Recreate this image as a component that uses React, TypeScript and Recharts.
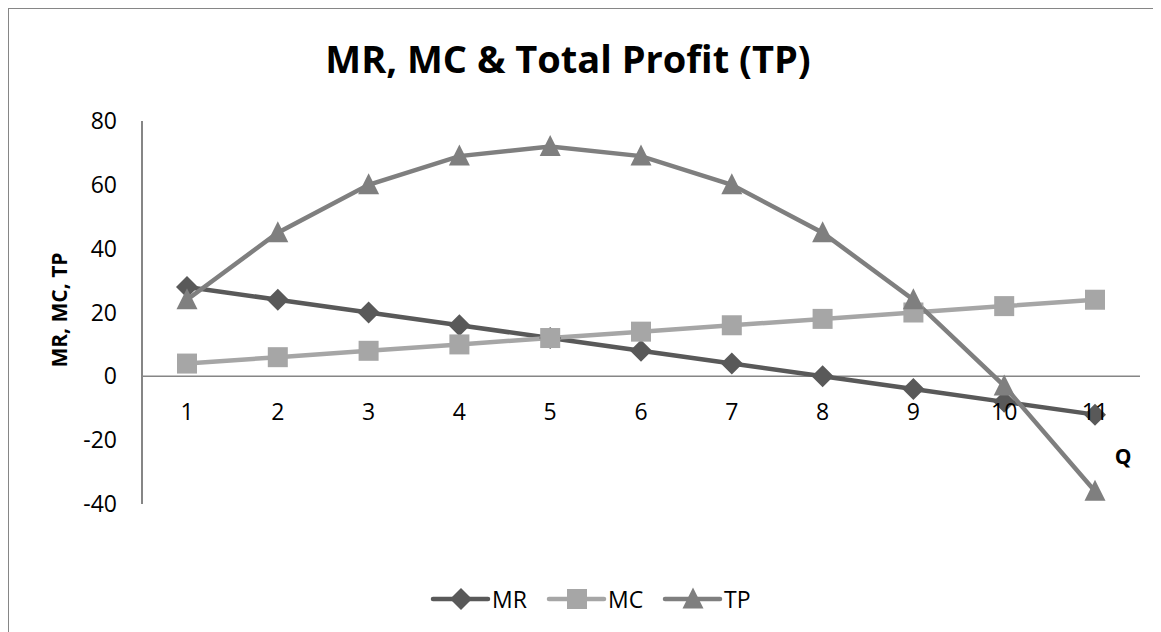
import { LineChart, Line, XAxis, YAxis, ReferenceLine, ReferenceDot } from 'recharts';

const quantities = ['1', '2', '3', '4', '5', '6', '7', '8', '9', '10', '11'];
const mrValues = [28, 24, 20, 16, 12, 8, 4, 0, -4, -8, -12];
const mcValues = [4, 6, 8, 10, 12, 14, 16, 18, 20, 22, 24];
const tpValues = [24, 45, 60, 69, 72, 69, 60, 45, 24, -3, -36];
const yTicks = [-40, -20, 0, 20, 40, 60, 80];

const data = quantities.map((q, i) => ({
  q,
  MR: mrValues[i],
  MC: mcValues[i],
  TP: tpValues[i],
}));

type MarkerKind = 'diamond' | 'square' | 'triangle';

const series: { key: string; color: string; marker: MarkerKind }[] = [
  { key: 'MR', color: '#595959', marker: 'diamond' },
  { key: 'MC', color: '#a6a6a6', marker: 'square' },
  { key: 'TP', color: '#7f7f7f', marker: 'triangle' },
];

const W = 1152;
const H = 623;
const FONT = '"Open Sans", sans-serif';

const drawMarker = (kind: MarkerKind, cx: number, cy: number, color: string, key?: string) => {
  if (kind === 'diamond') {
    const s = 11;
    return <path key={key} d={`M${cx},${cy - s}L${cx + s},${cy}L${cx},${cy + s}L${cx - s},${cy}Z`} fill={color} />;
  }
  if (kind === 'square') {
    return <rect key={key} x={cx - 10} y={cy - 10} width={20} height={20} fill={color} />;
  }
  return <path key={key} d={`M${cx},${cy - 11.5}L${cx + 10.5},${cy + 9.5}L${cx - 10.5},${cy + 9.5}Z`} fill={color} />;
};

const App = () => {
  return (
    <div
      style={{
        position: 'relative',
        width: W + 1,
        height: H + 1,
        borderTop: '1px solid #868686',
        borderLeft: '1px solid #868686',
        boxSizing: 'border-box',
        fontFamily: FONT,
        background: '#fff',
      }}
    >
      <div style={{ position: 'absolute', left: 0, top: 0 }}>
        <LineChart width={W} height={H} data={data} margin={{ top: 112, right: 21, left: 0, bottom: 128 }}>
          <ReferenceLine y={0} stroke="#868686" strokeWidth={1.5} />
          <XAxis dataKey="q" hide padding={{ left: 45, right: 45 }} />
          <YAxis
            domain={[-40, 80]}
            ticks={yTicks}
            interval={0}
            width={133}
            tickLine={false}
            tickSize={6}
            tickMargin={19}
            axisLine={{ stroke: '#868686', strokeWidth: 2 }}
            tick={{ fill: '#000', fontSize: 23, fontFamily: FONT }}
          />
          {series.map((s) => (
            <Line
              key={s.key}
              dataKey={s.key}
              stroke={s.color}
              strokeWidth={4.5}
              isAnimationActive={false}
              dot={(p: any) => drawMarker(s.marker, p.cx, p.cy, s.color, `${s.key}-${p.index}`)}
              activeDot={false}
            />
          ))}
          {quantities.map((q) => (
            <ReferenceDot
              key={`lbl-${q}`}
              x={q}
              y={0}
              r={0}
              fill="none"
              stroke="none"
              label={{ value: q, position: 'bottom', offset: 27, fill: '#000', fontSize: 23, fontFamily: FONT }}
            />
          ))}
        </LineChart>
      </div>
      <svg
        width={W}
        height={H}
        style={{ position: 'absolute', left: 0, top: 0, pointerEvents: 'none', fontFamily: FONT }}
      >
        <text x={559} y={64} textAnchor="middle" fontSize={38} fontWeight="bold" fill="#000">
          MR, MC &amp; Total Profit (TP)
        </text>
        <text
          x={50}
          y={301}
          textAnchor="middle"
          dominantBaseline="central"
          fontSize={21}
          fontWeight="bold"
          fill="#000"
          transform="rotate(-90 50 301)"
        >
          MR, MC, TP
        </text>
        <text x={1114} y={447} textAnchor="middle" dominantBaseline="central" fontSize={21} fontWeight="bold" fill="#000">
          Q
        </text>
        {series.map((s, i) => {
          const x0 = 424 + i * 116;
          return (
            <g key={`leg-${s.key}`}>
              <line x1={x0} y1={590} x2={x0 + 55} y2={590} stroke={s.color} strokeWidth={4.5} strokeLinecap="round" />
              {drawMarker(s.marker, x0 + 28, 590, s.color)}
              <text x={x0 + 59} y={590} dominantBaseline="central" fontSize={23} fill="#000">
                {s.key}
              </text>
            </g>
          );
        })}
      </svg>
    </div>
  );
};

export default App;
